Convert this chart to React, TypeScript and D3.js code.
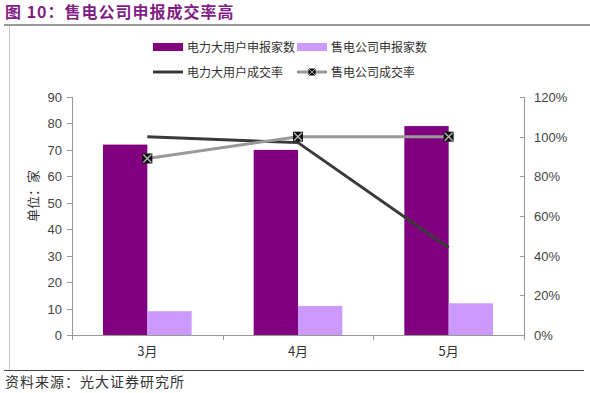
import React from 'react';
import * as d3 from 'd3';

// chart data
const months = ['3月', '4月', '5月'];
const bigUserCount = [72, 70, 79];
const retailCount = [9, 11, 12];
const bigUserRate = [1.0, 0.97, 0.44];
const retailRate = [0.89, 1.0, 1.0];
const leftTicks = [0, 10, 20, 30, 40, 50, 60, 70, 80, 90];
const rightTicks = [0, 0.2, 0.4, 0.6, 0.8, 1.0, 1.2];

const W = 590;
const H = 393;
const margin = { top: 97, right: 66, bottom: 58, left: 72 };
const innerW = W - margin.left - margin.right;
const innerH = H - margin.top - margin.bottom;

const darkPurple = '#800080';
const lightPurple = '#CC99FF';
const darkLine = '#3a3a3a';
const grayLine = '#999999';
const axisColor = '#999999';
const latin = '"Liberation Sans", Arial, sans-serif';
const cjk = '"Noto Sans CJK SC", "Liberation Sans", sans-serif';

const Marker = ({ x, y }: { x: number; y: number }) => (
    <g transform={`translate(${x},${y})`}>
        <rect x={-5} y={-5} width={10} height={10} fill="#111" />
        <path d="M-4,-4L4,4M-4,4L4,-4" stroke="#bbb" strokeWidth={1.3} />
    </g>
);

const App = () => {
    const x = d3.scaleBand().domain(months).range([0, innerW]).paddingInner(0).paddingOuter(0);
    const bars = d3.scaleBand().domain(['a', 'b']).range([0, x.bandwidth()]).paddingOuter(0.7).paddingInner(0);
    const y = d3.scaleLinear().domain([0, 90]).range([innerH, 0]);
    const yr = d3.scaleLinear().domain([0, 1.2]).range([innerH, 0]);
    const cx = (m: string) => (x(m) as number) + x.bandwidth() / 2;

    const line = d3.line<number>()
        .x((_, i) => cx(months[i]))
        .y(d => yr(d));

    return (
        <svg width={W} height={H} style={{ display: 'block', position: 'absolute', left: 0, top: 0 }}>
            <rect width={W} height={H} fill="#fff" />
            {/* title + frame */}
            <text x={5} y={18} fill="#7F1F84" fontWeight="bold" fontSize={16} letterSpacing={1} fontFamily={cjk}>
                图 10：售电公司申报成交率高
            </text>
            <line x1={4} x2={590} y1={25} y2={25} stroke="#9a9a9a" strokeWidth={2} />
            <line x1={9.5} x2={9.5} y1={26} y2={370} stroke="#c8c8c8" strokeWidth={1} />
            <line x1={4} x2={584} y1={370.5} y2={370.5} stroke="#444" strokeWidth={1} />
            <text x={5} y={387} fill="#333" fontSize={14} letterSpacing={1} fontFamily={cjk}>资料来源：光大证券研究所</text>

            {/* legend */}
            <g fontFamily={cjk} fontSize={12} fill="#333">
                <rect x={153} y={43} width={30} height={8} fill={darkPurple} />
                <text x={187} y={52}>电力大用户申报家数</text>
                <rect x={297} y={43} width={30} height={8} fill={lightPurple} />
                <text x={331} y={52}>售电公司申报家数</text>
                <line x1={153} x2={183} y1={72} y2={72} stroke={darkLine} strokeWidth={3} />
                <text x={187} y={77}>电力大用户成交率</text>
                <line x1={297} x2={327} y1={72} y2={72} stroke={grayLine} strokeWidth={3} />
                <g transform="translate(312,72) scale(0.7)">
                    <Marker x={0} y={0} />
                </g>
                <text x={331} y={77}>售电公司成交率</text>
            </g>

            <g transform={`translate(${margin.left},${margin.top})`}>
                {/* bars */}
                {months.map((m, i) => (
                    <g key={m} transform={`translate(${x(m)},0)`}>
                        <rect x={bars('a')} y={y(bigUserCount[i])} width={bars.bandwidth()} height={innerH - y(bigUserCount[i])} fill={darkPurple} />
                        <rect x={bars('b')} y={y(retailCount[i])} width={bars.bandwidth()} height={innerH - y(retailCount[i])} fill={lightPurple} />
                    </g>
                ))}

                {/* lines */}
                <path d={line(bigUserRate) as string} fill="none" stroke={darkLine} strokeWidth={3} />
                <path d={line(retailRate) as string} fill="none" stroke={grayLine} strokeWidth={3} />
                {retailRate.map((r, i) => <Marker key={i} x={cx(months[i])} y={yr(r)} />)}

                {/* left axis */}
                <line x1={0.5} x2={0.5} y1={0} y2={innerH} stroke={axisColor} />
                {leftTicks.map(t => (
                    <g key={t} transform={`translate(0,${Math.round(y(t)) + 0.5})`}>
                        <line x1={-5} x2={0} stroke={axisColor} />
                        <text x={-10} dy="0.35em" textAnchor="end" fontSize={13} fontFamily={latin} fill="#444">{t}</text>
                    </g>
                ))}
                <text transform={`translate(${-34},${innerH / 2 - 20}) rotate(-90)`} textAnchor="middle" fontSize={13} fontFamily={cjk} fill="#333">单位：家</text>

                {/* right axis */}
                <line x1={innerW + 0.5} x2={innerW + 0.5} y1={0} y2={innerH} stroke={axisColor} />
                {rightTicks.map(t => (
                    <g key={t} transform={`translate(${innerW},${Math.round(yr(t)) + 0.5})`}>
                        <line x1={-4} x2={0} stroke={axisColor} />
                        <text x={10} dy="0.35em" fontSize={13} fontFamily={latin} fill="#444">{d3.format('.0%')(t)}</text>
                    </g>
                ))}

                {/* bottom axis */}
                <line x1={0} x2={innerW + 1} y1={innerH + 0.5} y2={innerH + 0.5} stroke={axisColor} />
                {[...months.map(m => x(m) as number), innerW].map((v, i) => (
                    <line key={i} x1={Math.round(v) + 0.5} x2={Math.round(v) + 0.5} y1={innerH} y2={innerH + 5} stroke={axisColor} />
                ))}
                {months.map(m => (
                    <text key={m} x={cx(m)} y={innerH + 21} textAnchor="middle" fontSize={13} fontFamily={cjk} fill="#333">{m}</text>
                ))}
            </g>
        </svg>
    );
};

export default App;
